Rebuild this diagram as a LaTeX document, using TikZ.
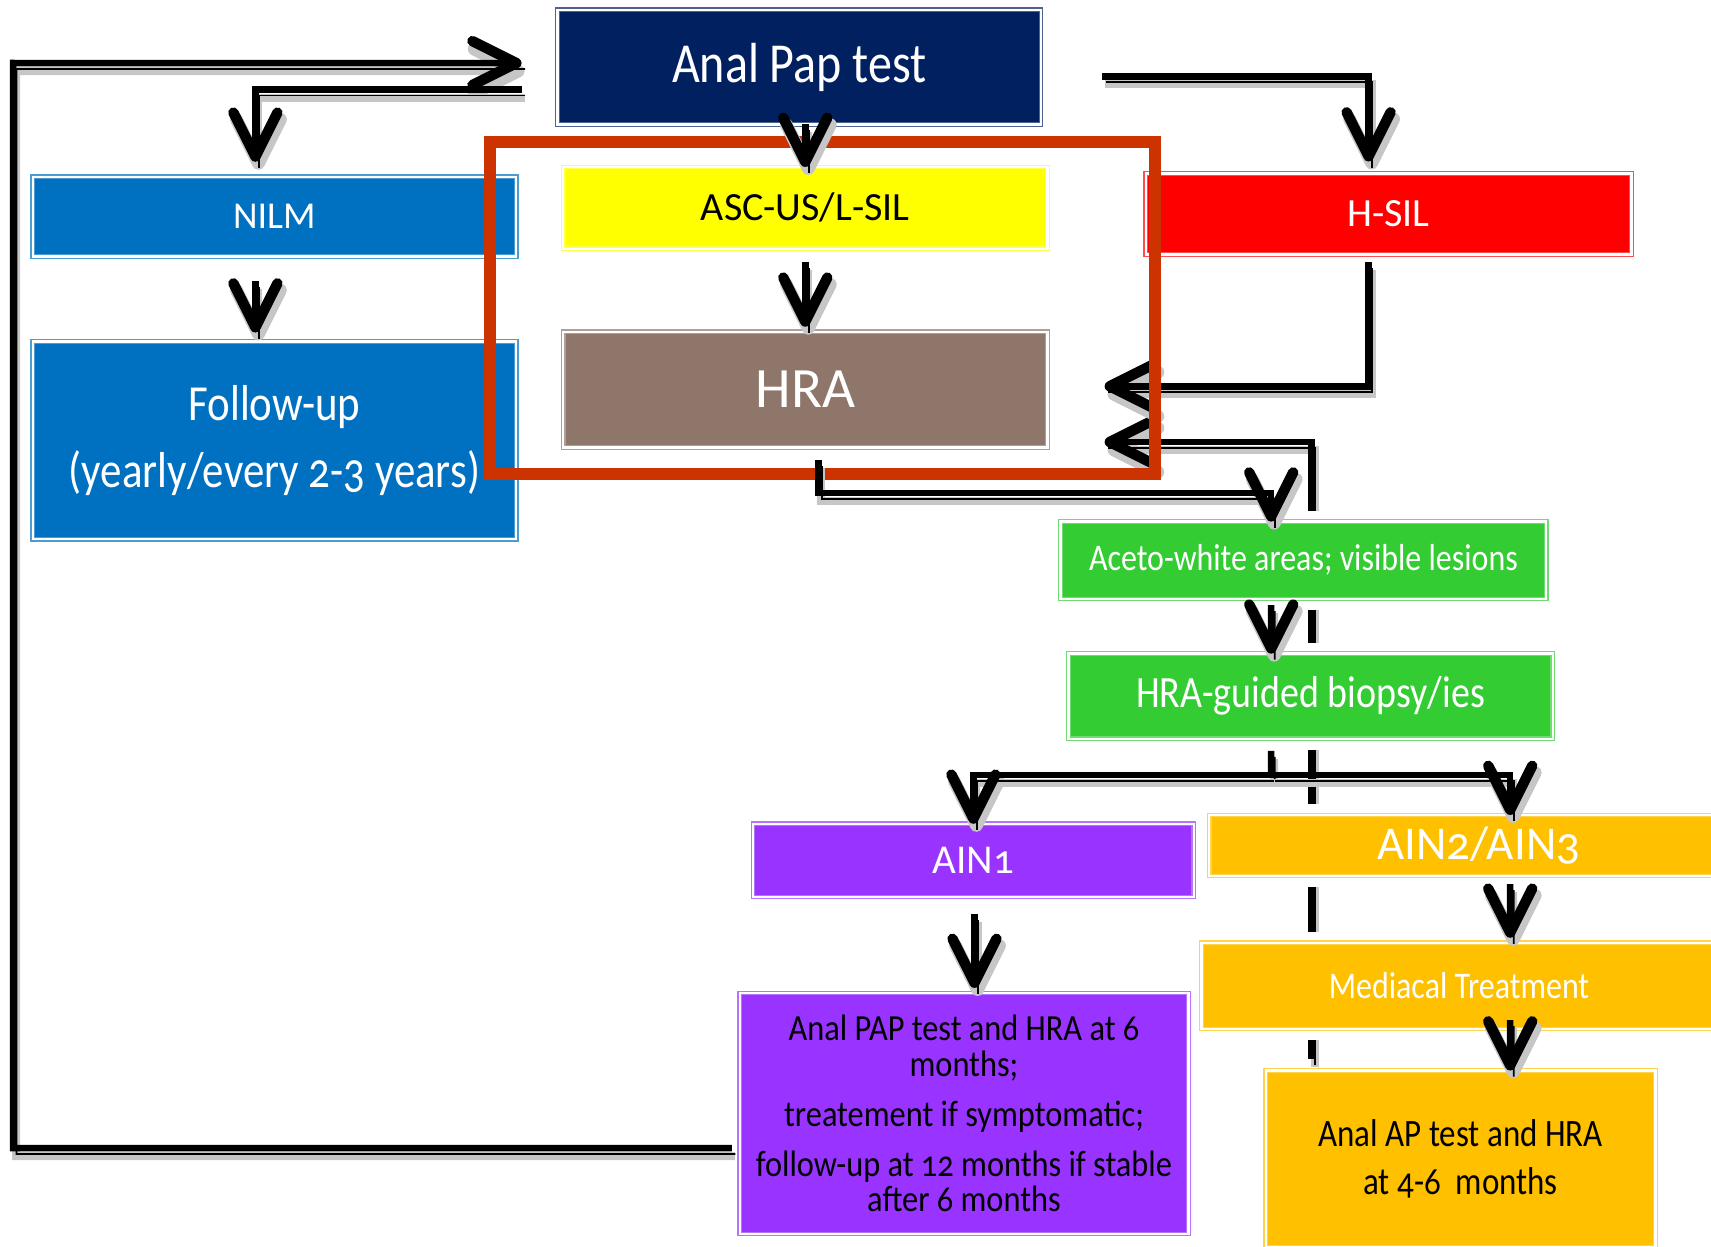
\documentclass[tikz,border=0pt]{standalone}
\usepackage{fontspec}
\setmainfont{Carlito}[Numbers=OldStyle]
\newfontfamily\condfont{Carlito}[Numbers=OldStyle, FakeStretch=0.85]
\newfontfamily\condbfont{Carlito}[Numbers=OldStyle, FakeStretch=0.88]
\usetikzlibrary{arrows.meta,backgrounds}
\definecolor{navy}{HTML}{002060}
\definecolor{mblue}{HTML}{0070C0}
\definecolor{myellow}{HTML}{FFFF00}
\definecolor{mred}{HTML}{FF0000}
\definecolor{mbrown}{HTML}{8F766B}
\definecolor{mgreen}{HTML}{33CC33}
\definecolor{mpurple}{HTML}{9933FF}
\definecolor{morange}{HTML}{FFC000}
\definecolor{mframe}{HTML}{CC3300}
\tikzset{
  box/.style={rectangle, fill=#1, draw=#1!70!white, double=white, double distance=2.5pt, line width=1.2pt, inner sep=0pt, outer sep=0pt, align=center},
  fs/.style 2 args={font=\fontsize{#1}{#2}\selectfont},
  cfs/.style 2 args={font=\condfont\fontsize{#1}{#2}\selectfont},
  ln/.style={line width=6.5pt},
  conn/.style={ln, -{Straight Barb[length=44pt,width=44pt,line width=0pt 1.6,round]}},
  shade/.style={draw=gray!45, line width=8pt, transform canvas={shift={(3pt,-8pt)}}},
  thin/.style={draw=black, line width=1.8pt, arrows=-, transform canvas={shift={(3.5pt,-6pt)}}},
}
% connector with shadow: \cx[style]{path}
\newcommand\cx[2][conn]{%
  \draw[#1, shade] #2;
  \draw[thin] #2;
  \draw[#1] #2;}
\begin{document}
\begin{tikzpicture}[x=1pt,y=-1pt]
\useasboundingbox (0,0) rectangle (1711,1247);
\clip (0,0) rectangle (1711,1247);
% nodes
\node[box=navy, minimum width=483.4pt, minimum height=114.6pt, text=white, cfs={56.5}{66}] (pap) at (799.3,67.1) {Anal Pap test};
\node[box=mblue, minimum width=483.3pt, minimum height=79.6pt, text=white, fs={38}{46}] (nilm) at (274.4,216.6) {NILM};
\node[box=myellow, minimum width=484.5pt, minimum height=81.8pt, text=black, fs={40}{48}] (asc) at (805.3,207.9) {ASC-US/L-SIL};
\node[box=mred, minimum width=485.6pt, minimum height=80.8pt, text=white, fs={40}{48}] (hsil) at (1388.6,213.9) {H-SIL};
\node[box=mbrown, minimum width=484.5pt, minimum height=115.7pt, text=white, fs={57}{66}] (hra) at (805.3,389.6) {HRA};
\node[box=mblue, minimum width=483.3pt, minimum height=197.5pt, text=white, cfs={50.5}{66.5}] (fu) at (274.4,440.3) {Follow-up\\(yearly/every 2-3 years)};
\node[box=mgreen, minimum width=485.6pt, minimum height=77.4pt, text=white, cfs={37.6}{44}] (aceto) at (1303.4,560.3) {Aceto-white areas; visible lesions};
\node[box=mgreen, minimum width=484.5pt, minimum height=85.1pt, text=white, cfs={44.7}{52}] (biopsy) at (1310.6,696.2) {HRA-guided biopsy/ies};
\node[box=mpurple, minimum width=440.8pt, minimum height=73.2pt, text=white, fs={41}{48}] (ain1) at (973.4,860.4) {AIN1};
\node[box=morange, minimum width=539pt, minimum height=61pt, text=white, fs={47}{54}] (ain23) at (1478.6,845.5) {AIN2/AIN3};
\node[box=morange, minimum width=515pt, minimum height=86.2pt, text=white, cfs={37.6}{44}] (med) at (1459,985.9) {Mediacal Treatment};
\node[box=mpurple, minimum width=448.5pt, minimum height=241pt, text=black, font=\condbfont\fontsize{36.8}{35.5}\selectfont] (ain1f) at (964,1113.5) {Anal PAP test and HRA at 6\\ months;\\[14.5pt] treatement if symptomatic;\\[14.5pt] follow-up at 12 months if stable\\ after 6 months};
\node[box=morange, minimum width=389.6pt, minimum height=177pt, text=black, cfs={38.8}{48}] (ap) at (1460.6,1159) {Anal AP test and HRA\\at 4-6\ \ months};
% hidden return line behind boxes
\begin{pgfonlayer}{background}
\cx{([xshift=-149pt,yshift=12pt]ap.north) |- ([xshift=57pt,yshift=-52.4pt]hra.east)}
\foreach \n in {aceto,biopsy,ain23,med}
  \fill[white] ([shift={(-11pt,11pt)}]\n.north west) rectangle ([shift={(11pt,-11pt)}]\n.south east);
\end{pgfonlayer}
% connectors
\cx{([xshift=-8pt,yshift=-34.5pt]ain1f.west) -| (13,63) -- ([xshift=-36pt,yshift=4pt]pap.west)}
\cx{([xshift=-36pt,yshift=-22.4pt]pap.west) -| ([xshift=-19pt,yshift=15pt]nilm.north)}
\cx{([xshift=61pt,yshift=-9.3pt]pap.east) -| ([xshift=-20pt,yshift=12pt]hsil.north)}
\cx{([xshift=-19pt,yshift=-25pt]nilm.south) -- ([xshift=-19pt,yshift=9pt]fu.north)}
\cx{([yshift=-13pt]asc.south) -- ([yshift=5pt]hra.north)}
\cx{([xshift=-20pt,yshift=-8pt]hsil.south) |- ([xshift=57pt,yshift=3.3pt]hra.east)}
\cx{([xshift=-32.2pt,yshift=-6pt]aceto.south) -- ([xshift=-39.4pt]biopsy.north)}
\coordinate (split) at (1271.2,774.8);
\cx[ln]{([xshift=-39.4pt,yshift=-12pt]biopsy.south) -- (split)}
\cx{(split) -| (ain1.north)}
\cx{(split) -| ([xshift=31.6pt]ain23.north)}
\cx{([xshift=1.1pt,yshift=-17pt]ain1.south) -- ([xshift=10.5pt,yshift=5pt]ain1f.north)}
\cx{([xshift=31.6pt,yshift=-8pt]ain23.south) -- ([xshift=51.2pt,yshift=5pt]med.north)}
\cx{([xshift=51.2pt,yshift=9pt]med.south) -- ([xshift=49.6pt]ap.north)}
% highlight frame
\node[draw=mframe, line width=12pt, inner sep=0pt, minimum width=664.6pt, minimum height=332pt] (hl) at (822.3,308) {};
\cx{(asc.north |- pap.south) -- (asc.north)}
\cx{([xshift=13pt,yshift=-13pt]hra.south) -- ++(0,32.7) -| ([xshift=-32.2pt]aceto.north)}
\end{tikzpicture}
\end{document}
